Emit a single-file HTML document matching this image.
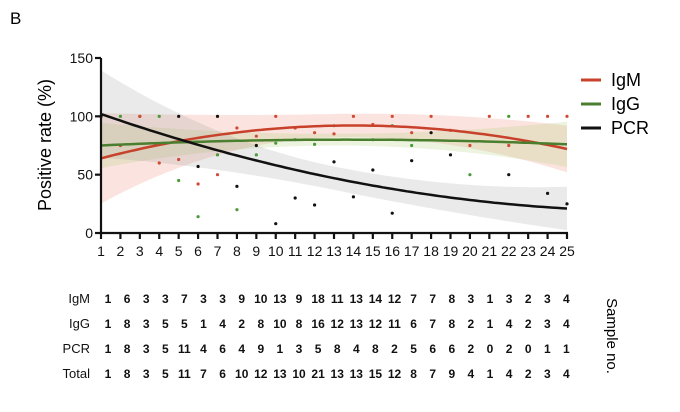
<!DOCTYPE html>
<html><head><meta charset="utf-8"><style>
body{margin:0;background:#fff;font-family:"Liberation Sans",Arial,sans-serif}
svg{display:block}
</style></head><body>
<svg id="s" width="680" height="412" xmlns="http://www.w3.org/2000/svg" font-family="Liberation Sans, Arial, sans-serif">
<text x="10" y="24" font-size="17">B</text>
<text transform="translate(51,145) rotate(-90)" text-anchor="middle" font-size="18">Positive rate (%)</text>
<g id="bands"></g>
<g id="pts"></g>
<g id="lines"></g>
<g id="axes" stroke="#111" stroke-width="2.2"></g>
<g id="labels" font-size="14" fill="#111"></g>
<g font-size="18">
<line x1="581" y1="80" x2="601" y2="80" stroke="#c8412b" stroke-width="3"/><text x="611" y="86">IgM</text>
<line x1="581" y1="104" x2="601" y2="104" stroke="#4a7f2f" stroke-width="3"/><text x="611" y="110">IgG</text>
<line x1="581" y1="128" x2="601" y2="128" stroke="#111" stroke-width="3"/><text x="611" y="134">PCR</text>
</g>
<g id="tbl" font-size="12" font-weight="bold" fill="#111"></g>
<text transform="translate(607,336) rotate(90)" text-anchor="middle" font-size="15">Sample no.</text>
</svg>
<script>
const NS="http://www.w3.org/2000/svg";
const px=x=>101+(x-1)*19.4167, py=v=>233-v*1.1667;
function el(p,t,a,txt){const e=document.createElementNS(NS,t);for(const k in a)e.setAttribute(k,a[k]);if(txt!==undefined)e.textContent=txt;document.getElementById(p).appendChild(e);}
const series=[
 {c:"#c8412b",band:"rgba(235,120,95,0.2)",f:t=>92-0.16667*t*t+0.3333*t,h:t=>10+(t<0?0.2:0.07)*t*t},
 {c:"#4a7f2f",band:"rgba(170,200,110,0.22)",f:t=>80-0.03125*t*t+0.0417*t,h:t=>5+0.1*t*t},
 {c:"#111",band:"rgba(150,150,150,0.2)",f:t=>47+0.1007*t*t-3.375*t,h:t=>10+(t<0?0.19:0.06)*t*t}
];
series.forEach(s=>{
 let up=[],lo=[],ln=[];
 for(let x=1;x<=25.001;x+=0.25){const t=x-13,v=s.f(t),h=s.h(t);
  up.push(px(x).toFixed(1)+","+py(v+h).toFixed(1));lo.unshift(px(x).toFixed(1)+","+py(v-h).toFixed(1));ln.push(px(x).toFixed(1)+","+py(v).toFixed(1));}
 el("bands","polygon",{points:up.concat(lo).join(" "),fill:s.band});
 s.ln=ln;
});
series.forEach(s=>el("lines","polyline",{points:s.ln.join(" "),fill:"none",stroke:s.c,"stroke-width":2.5}));
const R=[100,75,100,60,63,42,50,90,83,100,90,86,85,100,93,100,86,100,88,75,100,75,100,100,100];
const G=[100,100,100,100,45,14,67,20,67,77,80,76,92,null,80,92,75,null,null,50,null,100,null,null,null];
const K=[100,null,null,null,100,57,100,40,75,8,30,24,61,31,54,17,62,86,67,null,null,50,null,34,25];
[[G,"#4a9a3a"],[R,"#d04a35"],[K,"#111"]].forEach(([a,c])=>a.forEach((v,i)=>{if(v!==null)el("pts","circle",{cx:px(i+1),cy:py(v),r:1.6,fill:c});}));
el("axes","line",{x1:101,y1:58,x2:101,y2:234});
el("axes","line",{x1:100,y1:233,x2:568,y2:233});
[0,50,100,150].forEach(v=>{el("axes","line",{x1:95,y1:py(v),x2:101,y2:py(v)});el("labels","text",{x:93,y:py(v)+5,"text-anchor":"end"},v);});
for(let i=1;i<=25;i++){el("axes","line",{x1:px(i),y1:233,x2:px(i),y2:239});el("labels","text",{x:px(i),y:256,"text-anchor":"middle"},i);}
const rows=[["IgM","1 6 3 3 7 3 3 9 10 13 9 18 11 13 14 12 7 7 8 3 1 3 2 3 4"],
["IgG","1 8 3 5 5 1 4 2 8 10 8 16 12 13 12 11 6 7 8 2 1 4 2 3 4"],
["PCR","1 8 3 5 11 4 6 4 9 1 3 5 8 4 8 2 5 6 6 2 0 2 0 1 1"],
["Total","1 8 3 5 11 7 6 10 12 13 10 21 13 13 15 12 8 7 9 4 1 4 2 3 4"]];
rows.forEach((r,j)=>{const y=303+j*25;
 el("tbl","text",{x:90,y:y,"text-anchor":"end","font-weight":"normal","font-size":"13"},r[0]);
 r[1].split(" ").forEach((n,i)=>el("tbl","text",{x:108+i*19.1,y:y,"text-anchor":"middle"},n));});
</script>
</body></html>
